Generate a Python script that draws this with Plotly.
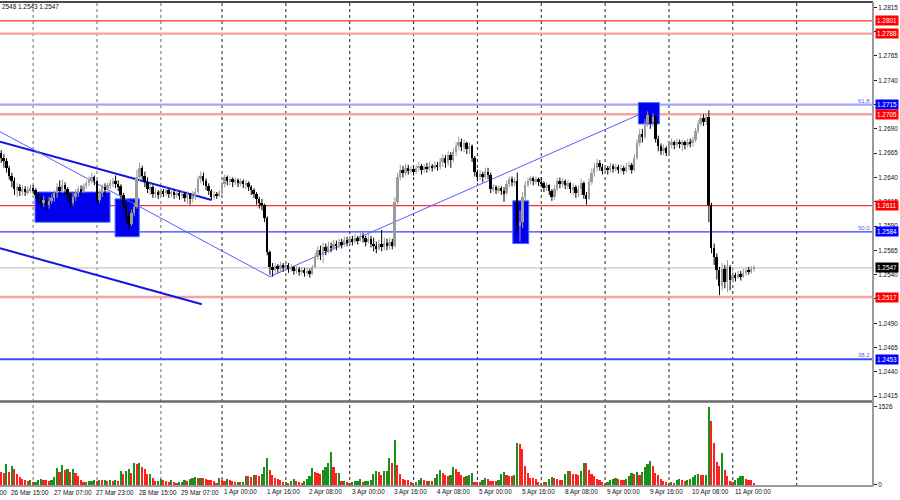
import plotly.graph_objects as go

# ---------------- data (hourly bars, index 0 = 26 Mar 12:00) ----------------
first_open = 1.2665
closes = [
    1.2660, 1.2657, 1.2650, 1.2642, 1.2636, 1.2628, 1.2630, 1.2626, 1.2628, 1.2625,
    1.2627, 1.2629, 1.2627, 1.2622, 1.2618, 1.2614, 1.2617, 1.2612, 1.2616, 1.2619,
    1.2624, 1.2630, 1.2626, 1.2632, 1.2628, 1.2622, 1.2614, 1.2620, 1.2624, 1.2628,
    1.2626, 1.2631, 1.2634, 1.2637, 1.2640, 1.2636, 1.2617, 1.2624, 1.2630, 1.2627,
    1.2632, 1.2634, 1.2636, 1.2633, 1.2631, 1.2622, 1.2612, 1.2600, 1.2592, 1.2603,
    1.2610, 1.2640, 1.2650, 1.2642, 1.2635, 1.2628, 1.2630, 1.2623, 1.2625, 1.2622,
    1.2626, 1.2624, 1.2627, 1.2623, 1.2625, 1.2622, 1.2624, 1.2621, 1.2623, 1.2619,
    1.2622, 1.2618, 1.2621, 1.2625, 1.2638, 1.2642, 1.2636, 1.2631, 1.2626, 1.2620,
    1.2622, 1.2621, 1.2624, 1.2633, 1.2640, 1.2636, 1.2638, 1.2635, 1.2637, 1.2634,
    1.2636, 1.2633, 1.2634, 1.2630, 1.2627, 1.2623, 1.2618, 1.2614, 1.2612, 1.2598,
    1.2563, 1.2548, 1.2545, 1.2549, 1.2546, 1.2550, 1.2547, 1.2550, 1.2546, 1.2548,
    1.2544, 1.2546, 1.2543, 1.2545, 1.2542, 1.2544, 1.2541, 1.2548, 1.2558, 1.2565,
    1.2560, 1.2568, 1.2564, 1.2570, 1.2567, 1.2572, 1.2569, 1.2574, 1.2571, 1.2576,
    1.2573, 1.2577, 1.2574, 1.2578, 1.2575, 1.2580, 1.2578, 1.2574, 1.2577, 1.2572,
    1.2570, 1.2566, 1.2572, 1.2568, 1.2573, 1.2569, 1.2574, 1.2570, 1.2615, 1.2640,
    1.2648, 1.2645, 1.2650, 1.2647, 1.2649, 1.2646, 1.2650, 1.2652, 1.2648, 1.2651,
    1.2649, 1.2652, 1.2650, 1.2653, 1.2651, 1.2656, 1.2660, 1.2655, 1.2663, 1.2658,
    1.2666, 1.2672, 1.2677, 1.2671, 1.2675, 1.2669, 1.2672, 1.2660, 1.2646, 1.2641,
    1.2644, 1.2640, 1.2646, 1.2643, 1.2628, 1.2630, 1.2627, 1.2629, 1.2626, 1.2624,
    1.2633, 1.2638, 1.2635, 1.2636, 1.2590, 1.2594, 1.2620, 1.2632, 1.2636, 1.2639,
    1.2636, 1.2638, 1.2635, 1.2634, 1.2629, 1.2632, 1.2626, 1.2620, 1.2628, 1.2636,
    1.2633, 1.2636, 1.2632, 1.2634, 1.2628, 1.2630, 1.2624, 1.2628, 1.2634, 1.2622,
    1.2618, 1.2635, 1.2645, 1.2650, 1.2655, 1.2651, 1.2647, 1.2650, 1.2648, 1.2652,
    1.2649, 1.2651, 1.2648, 1.2650, 1.2647, 1.2651, 1.2653, 1.2648, 1.2660, 1.2675,
    1.2685, 1.2682, 1.2696, 1.2704, 1.2697, 1.2702, 1.2680, 1.2672, 1.2667, 1.2670,
    1.2665, 1.2674, 1.2676, 1.2673, 1.2677, 1.2674, 1.2676, 1.2673, 1.2677, 1.2675,
    1.2679, 1.2688, 1.2695, 1.2701, 1.2697, 1.2702, 1.2612, 1.2567, 1.2558, 1.2545,
    1.2528, 1.2546, 1.2532, 1.2548, 1.2535, 1.2540, 1.2537, 1.2541, 1.2538, 1.2542,
    1.2544, 1.2543, 1.2546, 1.2547,
]
highs = [
    1.2668, 1.2664, 1.2660, 1.2652, 1.2645, 1.2640, 1.2634, 1.2633, 1.2632, 1.2631,
    1.2631, 1.2633, 1.2632, 1.2629, 1.2625, 1.2621, 1.2621, 1.2619, 1.2620, 1.2623,
    1.2627, 1.2634, 1.2637, 1.2638, 1.2635, 1.2630, 1.2624, 1.2624, 1.2628, 1.2631,
    1.2632, 1.2634, 1.2637, 1.2641, 1.2645, 1.2642, 1.2637, 1.2628, 1.2633, 1.2634,
    1.2635, 1.2638, 1.2640, 1.2642, 1.2637, 1.2633, 1.2624, 1.2614, 1.2605, 1.2607,
    1.2614, 1.2648, 1.2655, 1.2652, 1.2646, 1.2640, 1.2634, 1.2632, 1.2629, 1.2627,
    1.2629, 1.2628, 1.2630, 1.2628, 1.2628, 1.2627, 1.2627, 1.2626, 1.2627, 1.2625,
    1.2626, 1.2624, 1.2626, 1.2629, 1.2642, 1.2646, 1.2645, 1.2639, 1.2634, 1.2628,
    1.2626, 1.2625, 1.2627, 1.2636, 1.2643, 1.2642, 1.2641, 1.2640, 1.2640, 1.2639,
    1.2639, 1.2638, 1.2637, 1.2636, 1.2632, 1.2629, 1.2625, 1.2620, 1.2618, 1.2613,
    1.2600, 1.2565, 1.2552, 1.2552, 1.2551, 1.2553, 1.2552, 1.2554, 1.2552, 1.2551,
    1.2549, 1.2549, 1.2548, 1.2548, 1.2547, 1.2547, 1.2546, 1.2550, 1.2562, 1.2569,
    1.2570, 1.2573, 1.2572, 1.2574, 1.2573, 1.2576, 1.2575, 1.2577, 1.2577, 1.2579,
    1.2579, 1.2580, 1.2580, 1.2582, 1.2580, 1.2584, 1.2583, 1.2580, 1.2582, 1.2580,
    1.2578, 1.2574, 1.2576, 1.2586, 1.2578, 1.2577, 1.2578, 1.2577, 1.2620, 1.2645,
    1.2653, 1.2652, 1.2654, 1.2653, 1.2652, 1.2651, 1.2653, 1.2656, 1.2654, 1.2654,
    1.2655, 1.2656, 1.2654, 1.2657, 1.2656, 1.2660, 1.2664, 1.2663, 1.2667, 1.2666,
    1.2670, 1.2676, 1.2682, 1.2680, 1.2679, 1.2677, 1.2676, 1.2674, 1.2662, 1.2648,
    1.2648, 1.2646, 1.2650, 1.2650, 1.2645, 1.2633, 1.2632, 1.2632, 1.2631, 1.2630,
    1.2637, 1.2641, 1.2641, 1.2640, 1.2645, 1.2606, 1.2625, 1.2636, 1.2640, 1.2642,
    1.2641, 1.2641, 1.2640, 1.2640, 1.2636, 1.2635, 1.2633, 1.2628, 1.2632, 1.2640,
    1.2640, 1.2639, 1.2638, 1.2637, 1.2635, 1.2634, 1.2632, 1.2632, 1.2639, 1.2636,
    1.2625, 1.2639, 1.2649, 1.2655, 1.2659, 1.2658, 1.2654, 1.2653, 1.2652, 1.2655,
    1.2654, 1.2654, 1.2653, 1.2653, 1.2652, 1.2655, 1.2656, 1.2655, 1.2664, 1.2679,
    1.2690, 1.2690, 1.2700, 1.2708, 1.2706, 1.2706, 1.2704, 1.2683, 1.2675, 1.2674,
    1.2672, 1.2678, 1.2680, 1.2678, 1.2680, 1.2679, 1.2679, 1.2678, 1.2680, 1.2680,
    1.2682, 1.2691, 1.2699, 1.2704, 1.2705, 1.2706, 1.2709, 1.2614, 1.2572, 1.2562,
    1.2548, 1.2552, 1.2550, 1.2555, 1.2550, 1.2544, 1.2542, 1.2544, 1.2544, 1.2546,
    1.2547, 1.2548, 1.2549, 1.2550,
]
lows = [
    1.2655, 1.2650, 1.2645, 1.2638, 1.2630, 1.2622, 1.2620, 1.2621, 1.2622, 1.2621,
    1.2622, 1.2624, 1.2623, 1.2618, 1.2613, 1.2609, 1.2610, 1.2606, 1.2608, 1.2613,
    1.2615, 1.2619, 1.2622, 1.2624, 1.2622, 1.2615, 1.2609, 1.2611, 1.2616, 1.2620,
    1.2622, 1.2624, 1.2628, 1.2631, 1.2634, 1.2632, 1.2613, 1.2614, 1.2620, 1.2623,
    1.2624, 1.2628, 1.2630, 1.2629, 1.2626, 1.2618, 1.2607, 1.2594, 1.2586, 1.2590,
    1.2600, 1.2608, 1.2636, 1.2638, 1.2630, 1.2624, 1.2622, 1.2619, 1.2619, 1.2618,
    1.2620, 1.2620, 1.2621, 1.2619, 1.2620, 1.2618, 1.2619, 1.2617, 1.2618, 1.2615,
    1.2613, 1.2612, 1.2614, 1.2617, 1.2623, 1.2634, 1.2632, 1.2627, 1.2622, 1.2617,
    1.2617, 1.2618, 1.2620, 1.2620, 1.2630, 1.2632, 1.2632, 1.2630, 1.2632, 1.2630,
    1.2631, 1.2629, 1.2628, 1.2626, 1.2622, 1.2619, 1.2612, 1.2608, 1.2606, 1.2594,
    1.2560, 1.2540, 1.2538, 1.2541, 1.2542, 1.2543, 1.2543, 1.2544, 1.2542, 1.2543,
    1.2540, 1.2541, 1.2539, 1.2540, 1.2538, 1.2539, 1.2537, 1.2540, 1.2547, 1.2555,
    1.2555, 1.2552, 1.2560, 1.2562, 1.2563, 1.2565, 1.2565, 1.2567, 1.2567, 1.2569,
    1.2569, 1.2571, 1.2570, 1.2572, 1.2571, 1.2574, 1.2573, 1.2569, 1.2572, 1.2568,
    1.2564, 1.2562, 1.2565, 1.2564, 1.2565, 1.2565, 1.2566, 1.2566, 1.2568, 1.2612,
    1.2637, 1.2640, 1.2642, 1.2643, 1.2644, 1.2642, 1.2644, 1.2646, 1.2643, 1.2645,
    1.2645, 1.2647, 1.2646, 1.2648, 1.2647, 1.2648, 1.2651, 1.2650, 1.2652, 1.2650,
    1.2656, 1.2662, 1.2668, 1.2667, 1.2666, 1.2664, 1.2664, 1.2656, 1.2641, 1.2636,
    1.2637, 1.2635, 1.2638, 1.2638, 1.2624, 1.2625, 1.2623, 1.2624, 1.2622, 1.2615,
    1.2622, 1.2630, 1.2631, 1.2631, 1.2583, 1.2574, 1.2588, 1.2616, 1.2630, 1.2633,
    1.2632, 1.2633, 1.2631, 1.2630, 1.2625, 1.2626, 1.2622, 1.2616, 1.2617, 1.2626,
    1.2629, 1.2630, 1.2628, 1.2628, 1.2624, 1.2622, 1.2619, 1.2620, 1.2622, 1.2618,
    1.2612, 1.2617, 1.2632, 1.2641, 1.2646, 1.2647, 1.2643, 1.2644, 1.2643, 1.2645,
    1.2645, 1.2646, 1.2644, 1.2645, 1.2643, 1.2645, 1.2647, 1.2644, 1.2646, 1.2658,
    1.2672, 1.2676, 1.2680, 1.2692, 1.2690, 1.2692, 1.2676, 1.2667, 1.2663, 1.2663,
    1.2662, 1.2663, 1.2670, 1.2669, 1.2671, 1.2670, 1.2667, 1.2669, 1.2671, 1.2671,
    1.2672, 1.2676, 1.2685, 1.2692, 1.2693, 1.2694, 1.2594, 1.2562, 1.2550, 1.2535,
    1.2519, 1.2524, 1.2526, 1.2522, 1.2524, 1.2532, 1.2533, 1.2536, 1.2534, 1.2537,
    1.2539, 1.2540, 1.2541, 1.2543,
]
volumes = [
    255, 235, 412, 255, 372, 314, 216, 157, 118, 98,
    78, 98, 59, 62, 96, 118, 101, 95, 80, 99,
    157, 333, 255, 392, 294, 314, 255, 318, 235, 176,
    98, 59, 63, 78, 82, 98, 80, 98, 95, 102,
    78, 98, 80, 96, 82, 274, 216, 278, 314, 235,
    431, 412, 436, 353, 314, 216, 220, 137, 78, 80,
    118, 98, 78, 59, 98, 59, 39, 59, 62, 98,
    78, 118, 137, 157, 137, 140, 135, 118, 98, 95,
    78, 39, 137, 98, 78, 118, 98, 78, 59, 62,
    58, 61, 176, 172, 157, 196, 190, 176, 216, 353,
    529, 294, 196, 137, 118, 98, 59, 62, 39, 78,
    118, 78, 59, 39, 78, 118, 176, 333, 255, 235,
    216, 294, 353, 431, 647, 353, 235, 238, 78, 80,
    59, 39, 59, 78, 80, 118, 59, 78, 80, 98,
    216, 274, 255, 196, 274, 276, 529, 431, 882, 392,
    216, 118, 98, 95, 59, 39, 59, 98, 137, 98,
    78, 80, 76, 137, 216, 294, 235, 196, 170, 190,
    353, 314, 255, 196, 157, 176, 196, 235, 59, 55,
    52, 98, 137, 118, 78, 76, 74, 98, 216, 255,
    196, 176, 172, 196, 823, 804, 706, 372, 235, 137,
    133, 118, 59, 39, 59, 57, 118, 157, 137, 118,
    98, 96, 216, 274, 270, 216, 212, 196, 274, 431,
    428, 294, 216, 176, 118, 98, 59, 39, 59, 98,
    118, 137, 118, 98, 96, 118, 176, 235, 216, 255,
    196, 255, 353, 412, 470, 372, 235, 196, 118, 78,
    59, 39, 59, 25, 98, 118, 98, 78, 98, 118,
    157, 196, 216, 196, 192, 200, 1526, 1254, 823, 451,
    372, 627, 294, 176, 78, 59, 98, 137, 176, 180,
    118, 98, 96, 39,
]
volume_max_label = 1526

# time-axis labels (bar index, text)
x_label_idx = [-13, 3, 19, 35, 51, 67, 83, 99, 115, 131, 147, 163, 179, 195,
               211, 227, 243, 259, 275]
x_label_text = ["25 Mar 23:00", "26 Mar 15:00", "27 Mar 07:00", "27 Mar 23:00",
                "28 Mar 15:00", "29 Mar 07:00", "1 Apr 00:00", "1 Apr 16:00",
                "2 Apr 08:00", "3 Apr 00:00", "3 Apr 16:00", "4 Apr 08:00",
                "5 Apr 00:00", "5 Apr 16:00", "8 Apr 08:00", "9 Apr 00:00",
                "9 Apr 16:00", "10 Apr 08:00", "11 Apr 00:00"]
# day separators (bar index)
sep_gray = [12, 36, 60]
sep_black = [83, 107, 131, 155, 179, 203, 227, 251, 275, 299]

# price axis ticks
y_ticks = [1.2415, 1.2440, 1.2465, 1.2490, 1.2515, 1.2540, 1.2565, 1.2590,
           1.2615, 1.2640, 1.2665, 1.2690, 1.2715, 1.2740, 1.2765, 1.2790, 1.2815]

# horizontal levels: price, kind
level_prices = [1.2801, 1.2788, 1.2715, 1.2705, 1.2611, 1.2584, 1.2547, 1.2517, 1.2453]
level_kinds = ["red", "pink", "fibblue", "pink", "red", "blue", "bid", "pink", "blue2"]
fib_prices = [1.2715, 1.2584, 1.2453]
fib_texts = ["61.8", "50.0", "38.2"]

# rectangles: (bar0, bar1, price_top, price_bottom)
boxes = [(12.7, 40.9, 1.2625, 1.2594),
         (42.8, 51.9, 1.2618, 1.2579),
         (192.3, 198.3, 1.2616, 1.2572),
         (239.5, 247.4, 1.2717, 1.2695)]
# trend lines: (bar0, price0, bar1, price1)
trend_thick = [(-0.46, 1.26768, 79.1, 1.26169),
               (-0.46, 1.25672, 75.4, 1.25096)]
trend_thin = [(-0.46, 1.26871, 101.0, 1.25380),
              (101.0, 1.25380, 239.5, 1.27043)]

# ---------------- figure ----------------
XMIN, XMAX = -0.46, 327.7
FONT = "Liberation Sans"
FS = 6.4

n = len(closes)
opens = [first_open] + closes[:-1]
idx = list(range(n))

bull_x, bull_base, bull_h = [], [], []
bear_x, bear_base, bear_h = [], [], []
wb_x, wb_y, wr_x, wr_y = [], [], [], []
for i in idx:
    o, c = opens[i], closes[i]
    hi = max(highs[i], o, c)
    lo = min(lows[i], o, c)
    body = max(abs(c - o), 0.00004)
    if c >= o:
        bull_x.append(i); bull_base.append(min(o, c)); bull_h.append(body)
        wb_x += [i, i, None]; wb_y += [lo, hi, None]
    else:
        bear_x.append(i); bear_base.append(min(o, c)); bear_h.append(body)
        wr_x += [i, i, None]; wr_y += [lo, hi, None]

BULL = "#9c9c9c"
BEAR = "#000000"

fig = go.Figure()
fig.add_trace(go.Scatter(x=wb_x, y=wb_y, mode="lines", line=dict(color=BULL, width=1),
                         hoverinfo="skip"))
fig.add_trace(go.Scatter(x=wr_x, y=wr_y, mode="lines", line=dict(color=BEAR, width=1),
                         hoverinfo="skip"))
fig.add_trace(go.Bar(x=bull_x, y=bull_h, base=bull_base, width=0.72,
                     marker=dict(color=BULL, line=dict(width=0))))
fig.add_trace(go.Bar(x=bear_x, y=bear_h, base=bear_base, width=0.72,
                     marker=dict(color=BEAR, line=dict(width=0))))

vcolors = []
for i, v in enumerate(volumes):
    if i > 0 and v > volumes[i - 1]:
        vcolors.append("#1a8f1a")
    else:
        vcolors.append("#ff2020")
fig.add_trace(go.Bar(x=idx, y=volumes, width=0.62, yaxis="y2",
                     marker=dict(color=vcolors, line=dict(width=0))))

shapes = []
# separators
for b in sep_gray:
    shapes.append(dict(type="line", xref="x", yref="paper", x0=b, x1=b, y0=0, y1=1,
                       line=dict(color="#8c8c8c", width=1.3, dash="dot"), layer="below"))
for b in sep_black:
    shapes.append(dict(type="line", xref="x", yref="paper", x0=b, x1=b, y0=0, y1=1,
                       line=dict(color="#222222", width=1, dash="dot"), layer="below"))

style = {
    "red": ("#ff3030", 1.2),
    "pink": ("#f5a3a3", 2.4),
    "fibblue": ("#a3a3ff", 2.2),
    "blue": ("#3a3aff", 1.2),
    "bid": ("#c8c8c8", 1.2),
    "blue2": ("#3355ee", 2.2),
}
for p, k in zip(level_prices, level_kinds):
    col, w = style[k]
    shapes.append(dict(type="line", xref="paper", yref="y", x0=0, x1=1, y0=p, y1=p,
                       line=dict(color=col, width=w), layer="below"))

for b0, b1, pt, pb in boxes:
    shapes.append(dict(type="rect", xref="x", yref="y", x0=b0, x1=b1, y0=pb, y1=pt,
                       fillcolor="#0000ee", line=dict(color="#4a6cff", width=1),
                       layer="below"))

for b0, p0, b1, p1 in trend_thick:
    shapes.append(dict(type="line", xref="x", yref="y", x0=b0, y0=p0, x1=b1, y1=p1,
                       line=dict(color="#1414e6", width=2), layer="below"))
for b0, p0, b1, p1 in trend_thin:
    shapes.append(dict(type="line", xref="x", yref="y", x0=b0, y0=p0, x1=b1, y1=p1,
                       line=dict(color="#5a5aff", width=1), layer="below"))

MAIN_BOTTOM = 0.1777
VOL_TOP = 0.1715
SEP_Y = 0.1746
# frame
shapes.append(dict(type="line", xref="paper", yref="paper", x0=0, x1=1, y0=1, y1=1,
                   line=dict(color="#4a4a4a", width=2)))
shapes.append(dict(type="line", xref="paper", yref="paper", x0=0, x1=1, y0=SEP_Y, y1=SEP_Y,
                   line=dict(color="#6a6a6a", width=2.5)))
shapes.append(dict(type="line", xref="paper", yref="paper", x0=0, x1=1, y0=0, y1=0,
                   line=dict(color="#7a7a7a", width=1.5)))
shapes.append(dict(type="line", xref="paper", yref="paper", x0=1, x1=1, y0=0, y1=1,
                   line=dict(color="#9a9a9a", width=2)))

annotations = []
# price label boxes
box_col = {"red": "#ff0000", "pink": "#ff0000", "fibblue": "#0000ff", "blue": "#0000ff",
           "bid": "#000000", "blue2": "#0000ff"}
for p, k in zip(level_prices, level_kinds):
    annotations.append(dict(xref="paper", yref="y", x=1, y=p, xanchor="left",
                            yanchor="middle", xshift=2, showarrow=False,
                            text="%.4f" % p, bgcolor=box_col[k], borderpad=1,
                            font=dict(family=FONT, size=FS, color="white")))
for p, t in zip(fib_prices, fib_texts):
    annotations.append(dict(xref="paper", yref="y", x=1, y=p, xanchor="right",
                            yanchor="bottom", xshift=-1, yshift=-1, showarrow=False,
                            text=t, font=dict(family=FONT, size=FS - 0.4, color="#5a5aff")))
# time labels
for b, t in zip(x_label_idx, x_label_text):
    annotations.append(dict(xref="paper", yref="paper",
                            x=(b - XMIN) / (XMAX - XMIN), y=-0.0125,
                            xanchor="left", yanchor="middle", showarrow=False, text=t,
                            font=dict(family=FONT, size=FS, color="#111111")))
# top-left OHLC text
annotations.append(dict(xref="paper", yref="paper", x=0, y=0.9897, xanchor="left",
                        yanchor="middle", showarrow=False, text="2548 1.2543 1.2547",
                        font=dict(family=FONT, size=FS, color="#111111")))

fig.update_layout(
    width=900, height=500,
    margin=dict(l=0, r=27, t=2, b=14, autoexpand=False),
    paper_bgcolor="white", plot_bgcolor="white",
    showlegend=False, barmode="overlay", bargap=0,
    shapes=shapes, annotations=annotations,
    xaxis=dict(range=[XMIN, XMAX], showgrid=False, zeroline=False,
               showticklabels=False, ticks="", showline=False, fixedrange=True,
               automargin=False),
    yaxis=dict(domain=[MAIN_BOTTOM, 1], range=[1.24111, 1.28205], side="right",
               tickvals=y_ticks, ticktext=["%.4f" % v for v in y_ticks],
               ticks="outside", ticklen=3, tickcolor="#222", tickwidth=1,
               showgrid=False, zeroline=False, showline=False, automargin=False,
               tickfont=dict(family=FONT, size=FS, color="#111111")),
    yaxis2=dict(domain=[0, VOL_TOP], range=[-19.6, 1604], side="right", anchor="x",
                tickvals=[0, volume_max_label], ticktext=["0", str(volume_max_label)],
                ticks="outside", ticklen=3, tickcolor="#222", automargin=False,
                showgrid=False, zeroline=False, showline=False,
                tickfont=dict(family=FONT, size=FS, color="#111111")),
)

fig.write_html(
    "out.html",
    config={"displayModeBar": False},
    post_script="document.body.style.margin='0';document.body.style.padding='0';"
                "document.body.style.overflow='hidden';",
)
